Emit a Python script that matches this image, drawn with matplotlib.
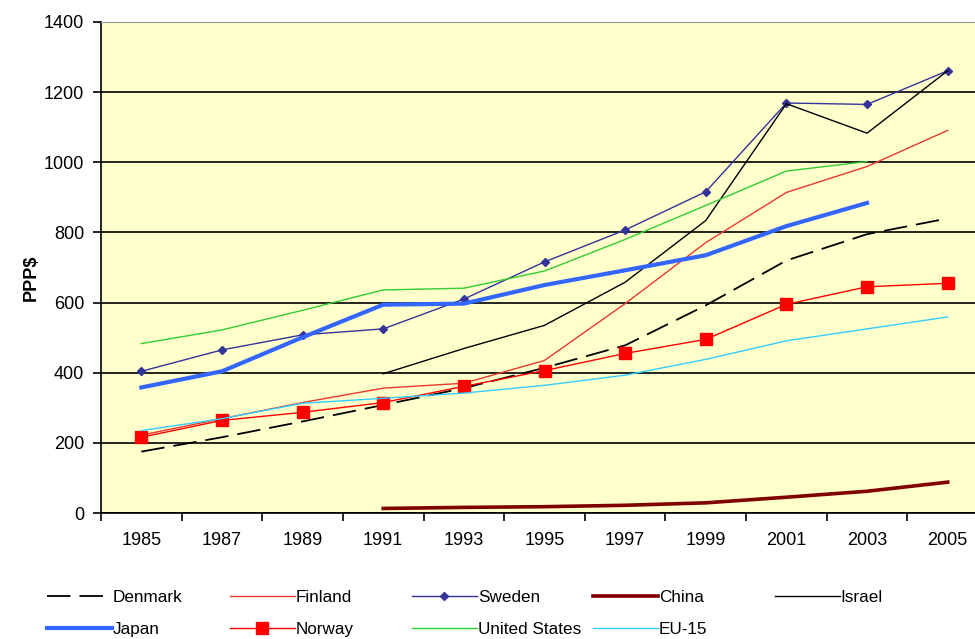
#R&D expenditure per capita (PPP$), 1985-2005

import matplotlib.pyplot as plt
import numpy as np

plt.rcParams['font.family'] = ['Liberation Sans', 'DejaVu Sans']

years = ['1985', '1987', '1989', '1991', '1993', '1995', '1997', '1999', '2001', '2003', '2005']
nan = np.nan

denmark = [175, 216, 261, 308, 356, 414, 478, 592, 720, 795, 840]
finland = [222, 269, 315, 356, 370, 435, 597, 771, 914, 988, 1091]
sweden = [404, 465, 508, 525, 610, 716, 807, 916, 1169, 1165, 1261]
china = [nan, nan, nan, 13, 16, 18, 22, 29, 45, 62, 88]
israel = [nan, nan, nan, 397, 469, 535, 658, 834, 1167, 1083, 1261]
japan = [358, 404, 501, 594, 597, 650, 692, 735, 818, 884, nan]
norway = [216, 264, 287, 315, 361, 406, 455, 495, 595, 645, 655]
usa = [483, 522, 578, 636, 641, 690, 780, 877, 975, 1002, nan]
eu15 = [235, 269, 313, 327, 342, 364, 393, 438, 491, 525, 559]

fig = plt.figure(figsize=(9.75, 6.39), dpi=100)
ax = fig.add_axes([101/975, 126/639, 887/975, 491/639])
ax.set_facecolor('#FFFFCC')

x = np.arange(len(years))

# series (same order as the legend, column by column)
l_den, = ax.plot(x, denmark, color='black', lw=1.3, dashes=(13, 5), label='Denmark')
l_fin, = ax.plot(x, finland, color='#E8382E', lw=1.0, label='Finland')
l_swe, = ax.plot(x, sweden, color='#333399', lw=1.0, marker='D', ms=4.5, label='Sweden')
l_chi, = ax.plot(x, china, color='#800000', lw=2.6, label='China')
l_isr, = ax.plot(x, israel, color='black', lw=1.0, label='Israel')
l_jap, = ax.plot(x, japan, color='#3366FF', lw=3.0, label='Japan')
l_nor, = ax.plot(x, norway, color='#FF0000', lw=1.0, marker='s', ms=8.5, label='Norway')
l_usa, = ax.plot(x, usa, color='#33CC33', lw=1.0, label='United States')
l_eu, = ax.plot(x, eu15, color='#33CCFF', lw=1.0, label='EU-15')

ax.set_xlim(-0.5, len(years) - 0.5)
ax.set_ylim(0, 1400)
ax.set_yticks(np.arange(0, 1401, 200))
ax.yaxis.grid(True, color='black', lw=1.2)
ax.set_axisbelow(True)

# ticks on category borders, labels in the middle
ax.set_xticks(np.arange(-0.5, len(years), 1))
ax.set_xticklabels([])
ax.set_xticks(x, minor=True)
ax.set_xticklabels(years, minor=True)
ax.tick_params(axis='x', which='major', direction='out', length=6, width=1.2)
ax.tick_params(axis='x', which='minor', length=0, pad=14, labelsize=13)
ax.tick_params(axis='y', direction='out', length=6, width=1.2, pad=6, labelsize=13)

ax.spines['left'].set_linewidth(1.2)
ax.spines['bottom'].set_linewidth(1.2)
ax.spines['top'].set_color('#999999')
ax.spines['right'].set_visible(False)

ax.set_ylabel('PPP$', fontsize=13, fontweight='bold')
ax.yaxis.set_label_coords(-0.069, 0.48)

# legend: five fixed-width columns, two rows
cols = [[l_den, l_jap], [l_fin, l_nor], [l_swe, l_usa], [l_chi, l_eu], [l_isr]]
col_x = [47, 230, 412, 593, 775]
for hs, cx in zip(cols, col_x):
    fig.legend(handles=hs, loc='upper left', bbox_to_anchor=(cx/975, 1 - 590/639),
               frameon=False, fontsize=12.3, handlelength=3.8, handletextpad=0.05,
               borderpad=0, borderaxespad=0, labelspacing=1.0)

plt.savefig('out.png', dpi=100)
